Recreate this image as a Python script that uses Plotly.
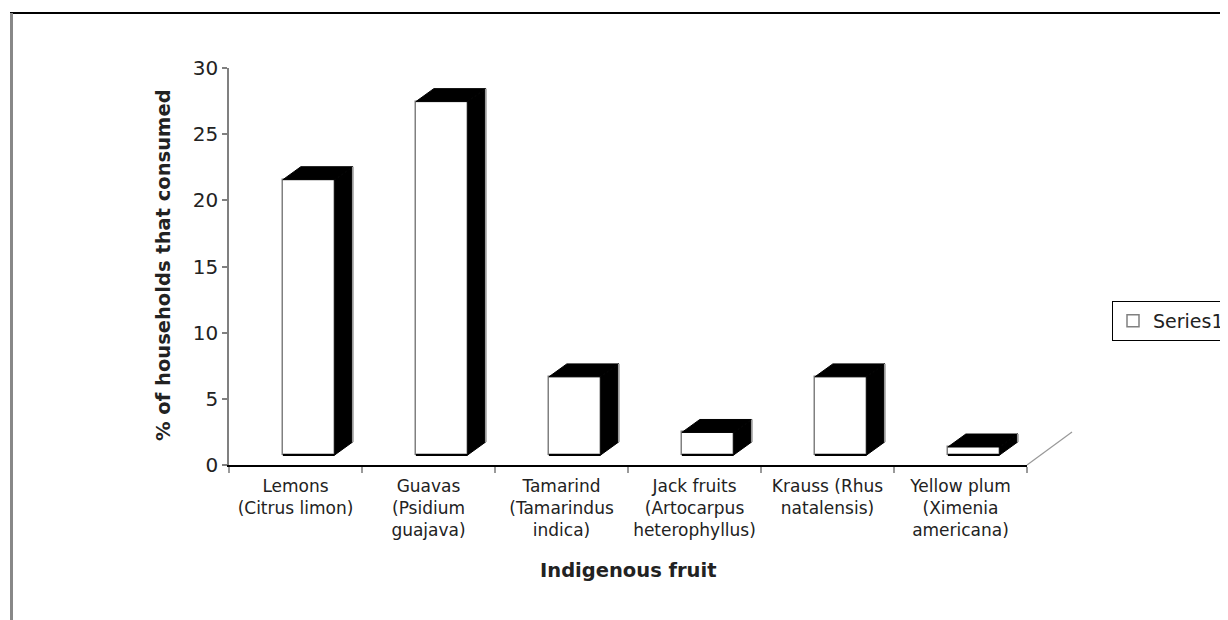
import plotly.graph_objects as go

# ---------------- data ----------------
categories = [
    "Lemons<br>(Citrus limon)",
    "Guavas<br>(Psidium<br>guajava)",
    "Tamarind<br>(Tamarindus<br>indica)",
    "Jack fruits<br>(Artocarpus<br>heterophyllus)",
    "Krauss (Rhus<br>natalensis)",
    "Yellow plum<br>(Ximenia<br>americana)",
]
values = [20.8, 26.7, 5.9, 1.7, 5.9, 0.6]
y_ticks = [0, 5, 10, 15, 20, 25, 30]
series_name = "Series1"
x_title = "Indigenous fruit"
y_title = "% of households that consumed"

# ---------------- 3-D style constants ----------------
FLOOR = 0.76   # front floor height (value units)
SHIFT = 0.10   # bar shift inside its category
WIDTH = 0.39   # bar width (category units)
DX = 0.135     # depth offset, category units
DY = 0.98      # depth offset, value units

PAGE_MARGIN = 8          # default body margin of the html page
W, H = 1228 - PAGE_MARGIN, 620 - PAGE_MARGIN
FONT = "DejaVu Sans"
TXT = "#222222"

def px_x(p):
    return (p - PAGE_MARGIN) / W

def px_y(p):
    return 1 - (p - PAGE_MARGIN) / H

x_dom = [px_x(229), px_x(1027)]
y_dom = [px_y(465), px_y(68)]

fig = go.Figure()

# front faces
fig.add_trace(go.Bar(
    x=categories, y=values, base=FLOOR, width=WIDTH, offset=SHIFT - WIDTH / 2,
    marker=dict(color="white", line=dict(color="#808080", width=1.5)),
    name=series_name, showlegend=True, xaxis="x", yaxis="y",
))

# side + top faces computed from the data
side_x, side_y, top_x, top_y, edge_x, edge_y, bot_x, bot_y = [], [], [], [], [], [], [], []
for i, v in enumerate(values):
    xl = i + SHIFT - WIDTH / 2
    xr = i + SHIFT + WIDTH / 2
    yb = FLOOR
    yt = FLOOR + v
    side_x += [xr, xr, xr + DX, xr + DX, xr, None]
    side_y += [yb, yt, yt + DY, yb + DY, yb, None]
    top_x += [xl, xr, xr + DX, xl + DX, xl, None]
    top_y += [yt, yt, yt + DY, yt + DY, yt, None]
    edge_x += [xr + DX, xr + DX, None]
    edge_y += [yb + DY, yt + DY, None]
    bot_x += [xl, xr, None]
    bot_y += [yb, yb, None]

fig.add_trace(go.Scatter(x=side_x, y=side_y, mode="lines", fill="toself",
                         fillcolor="black", line=dict(color="black", width=1),
                         showlegend=False, hoverinfo="skip", xaxis="x2", yaxis="y"))
fig.add_trace(go.Scatter(x=top_x, y=top_y, mode="lines", fill="toself",
                         fillcolor="black", line=dict(color="black", width=1),
                         showlegend=False, hoverinfo="skip", xaxis="x2", yaxis="y"))
fig.add_trace(go.Scatter(x=edge_x, y=edge_y, mode="lines",
                         line=dict(color="#9a9a9a", width=1.5),
                         showlegend=False, hoverinfo="skip", xaxis="x2", yaxis="y"))
fig.add_trace(go.Scatter(x=bot_x, y=bot_y, mode="lines",
                         line=dict(color="black", width=2),
                         showlegend=False, hoverinfo="skip", xaxis="x2", yaxis="y"))

fig.update_layout(
    width=W, height=H,
    margin=dict(l=0, r=0, t=0, b=0, autoexpand=False),
    paper_bgcolor="white", plot_bgcolor="white",
    bargap=0,
    xaxis=dict(
        domain=x_dom, type="category", range=[-0.5, len(categories) - 0.5],
        showline=True, linecolor="black", linewidth=1.5,
        ticks="outside", tickson="boundaries", ticklen=6, tickwidth=2, tickcolor="#9a9a9a",
        tickfont=dict(family=FONT, size=17, color=TXT), tickangle=0, ticklabelstandoff=5,
        showgrid=False, zeroline=False, fixedrange=True,
    ),
    xaxis2=dict(
        domain=x_dom, overlaying="x", range=[-0.5, len(categories) - 0.5],
        visible=False, fixedrange=True,
    ),
    yaxis=dict(
        domain=y_dom, range=[0, 30], tickvals=y_ticks,
        showline=True, linecolor="#808080", linewidth=1.5,
        ticks="outside", ticklen=5, tickwidth=1.5, tickcolor="#808080",
        tickfont=dict(family=FONT, size=20, color=TXT),
        showgrid=False, zeroline=False, fixedrange=True,
    ),
    legend=dict(
        x=px_x(1112), y=px_y(301), xanchor="left", yanchor="top",
        bordercolor="black", borderwidth=1, bgcolor="white",
        font=dict(family=FONT, size=19, color=TXT),
    ),
    annotations=[
        dict(text="<b>" + y_title + "</b>", x=px_x(163), y=px_y(265), xref="paper", yref="paper",
             textangle=-90, showarrow=False, xanchor="center", yanchor="middle",
             font=dict(family=FONT, size=19.5, color=TXT)),
        dict(text="<b>" + x_title + "</b>", x=px_x(628), y=px_y(570), xref="paper", yref="paper",
             showarrow=False, xanchor="center", yanchor="middle",
             font=dict(family=FONT, size=19.5, color=TXT)),
    ],
    shapes=[
        # floor depth edge at right end of category axis
        dict(type="line", xref="paper", yref="paper",
             x0=px_x(1027), y0=px_y(465), x1=px_x(1072), y1=px_y(432),
             line=dict(color="#999999", width=1.2)),
        # outer frame (top and left)
        dict(type="line", xref="paper", yref="paper",
             x0=px_x(10), y0=px_y(13), x1=1, y1=px_y(13),
             line=dict(color="black", width=2)),
        dict(type="line", xref="paper", yref="paper",
             x0=px_x(11.5), y0=px_y(13), x1=px_x(11.5), y1=0,
             line=dict(color="#888888", width=3)),
    ],
)

fig.write_html("out.html")
